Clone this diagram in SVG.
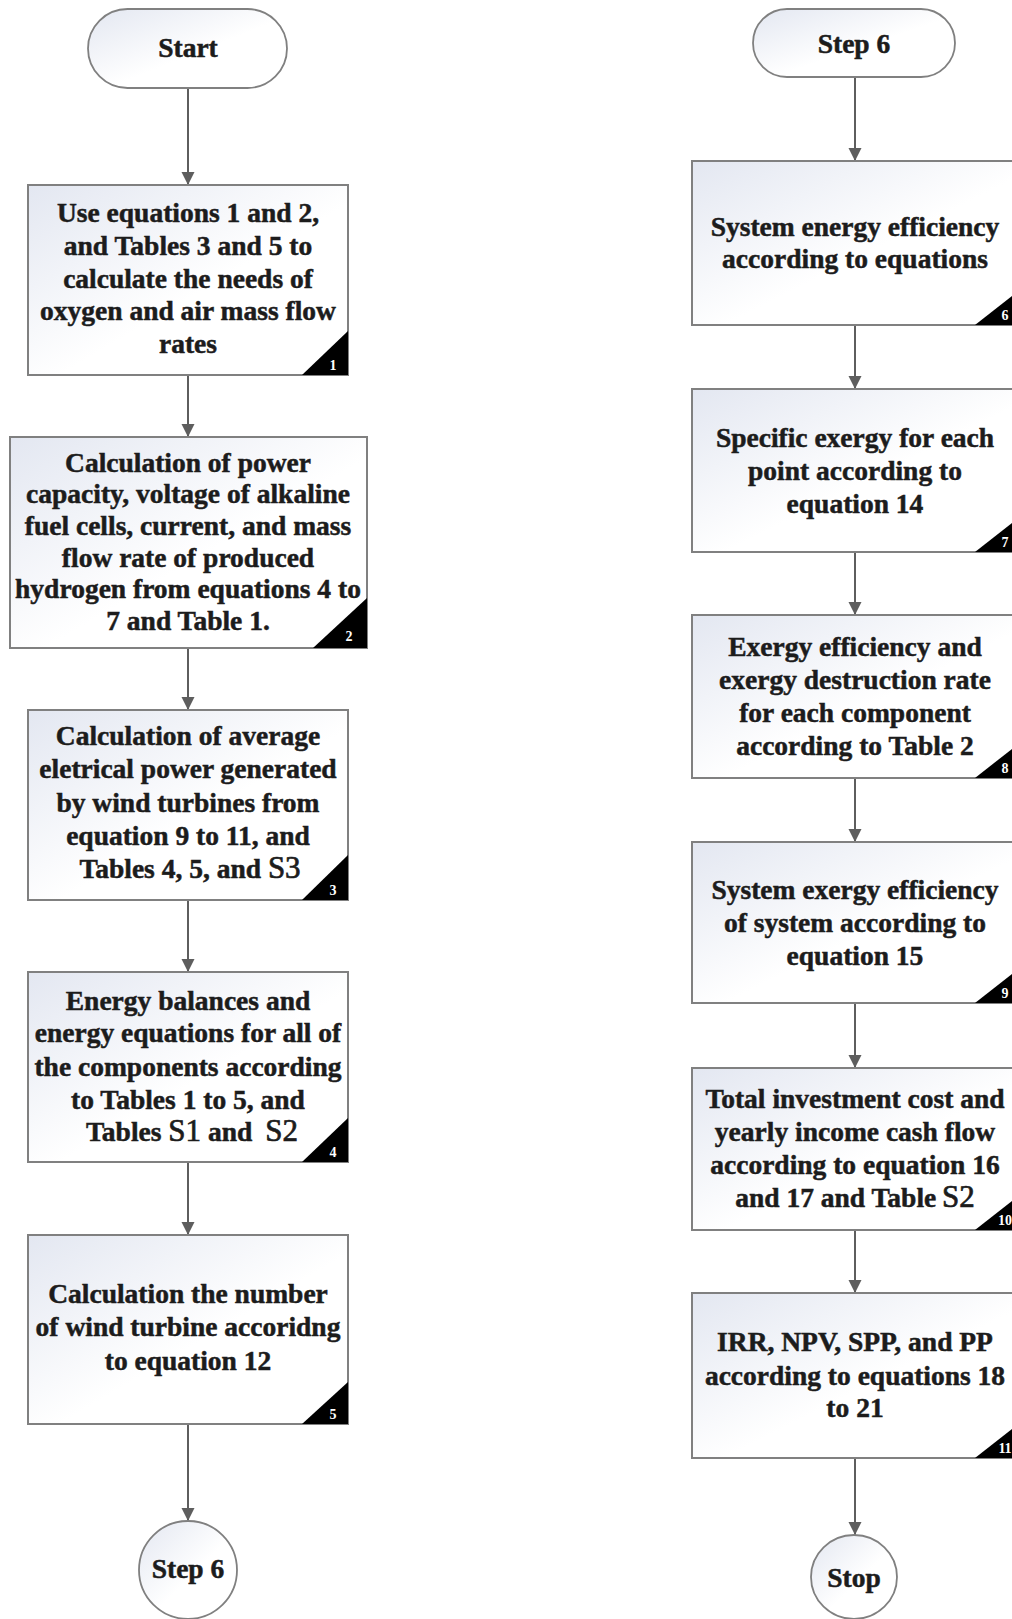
<svg xmlns="http://www.w3.org/2000/svg" width="1012" height="1619" viewBox="0 0 1012 1619">
<defs>
<linearGradient id="g" x1="0" y1="0" x2="1" y2="1">
<stop offset="0" stop-color="#e3e7f1"/>
<stop offset="0.55" stop-color="#ffffff"/>
<stop offset="1" stop-color="#ffffff"/>
</linearGradient>
<marker id="ah" markerWidth="14" markerHeight="14" refX="13" refY="6.5" orient="auto" markerUnits="userSpaceOnUse">
<path d="M0,0 L13,6.5 L0,13 z" fill="#5e5e5e"/>
</marker>
<style>
.box{fill:url(#g);stroke:#808080;stroke-width:2}
.term{fill:url(#g);stroke:#808080;stroke-width:1.8}
.tri{fill:#000}
.t{font-family:"Liberation Serif","Times New Roman",serif;font-weight:bold;font-size:27.5px;fill:#1c1c1c;stroke:#1c1c1c;stroke-width:0.5;text-anchor:middle}
.s{font-weight:normal;font-size:31px;stroke-width:0.7}
.n{font-family:"Liberation Serif","Times New Roman",serif;font-weight:bold;font-size:14px;fill:#fff;text-anchor:middle}
.c{stroke:#5e5e5e;stroke-width:2;fill:none;marker-end:url(#ah)}
</style>
</defs>
<rect width="1012" height="1619" fill="#fff"/>
<g id="connectors">
<line class="c" x1="188" y1="88" x2="188" y2="185"/>
<line class="c" x1="188" y1="375" x2="188" y2="437"/>
<line class="c" x1="188" y1="648" x2="188" y2="710"/>
<line class="c" x1="188" y1="900" x2="188" y2="972"/>
<line class="c" x1="188" y1="1162" x2="188" y2="1235"/>
<line class="c" x1="188" y1="1424" x2="188" y2="1521"/>
<line class="c" x1="855" y1="77" x2="855" y2="161"/>
<line class="c" x1="855" y1="325" x2="855" y2="389"/>
<line class="c" x1="855" y1="552" x2="855" y2="615"/>
<line class="c" x1="855" y1="778" x2="855" y2="842"/>
<line class="c" x1="855" y1="1003" x2="855" y2="1068"/>
<line class="c" x1="855" y1="1230" x2="855" y2="1293"/>
<line class="c" x1="855" y1="1458" x2="855" y2="1535"/>
</g>
<g id="start">
<rect class="term" x="88" y="9" width="199" height="79" rx="39.5"/>
<text class="t" x="188" y="57">Start</text>
</g>
<g id="box1">
<rect class="box" x="28" y="185" width="320" height="190"/>
<polygon class="tri" points="302,375 348,375 348,331"/>
<text class="n" x="333" y="370">1</text>
<text class="t"><tspan x="188" y="222">Use equations 1 and 2,</tspan><tspan x="188" y="255">and Tables 3 and 5 to</tspan><tspan x="188" y="288">calculate the needs of</tspan><tspan x="188" y="320">oxygen and air mass flow</tspan><tspan x="188" y="353">rates</tspan></text>
</g>
<g id="box2">
<rect class="box" x="10" y="437" width="357" height="211"/>
<polygon class="tri" points="313,648 367,648 367,598"/>
<text class="n" x="349" y="641">2</text>
<text class="t"><tspan x="188" y="472">Calculation of power</tspan><tspan x="188" y="503">capacity, voltage of alkaline</tspan><tspan x="188" y="535">fuel cells, current, and mass</tspan><tspan x="188" y="567">flow rate of produced</tspan><tspan x="188" y="598">hydrogen from equations 4 to</tspan><tspan x="188" y="630">7 and Table 1.</tspan></text>
</g>
<g id="box3">
<rect class="box" x="28" y="710" width="320" height="190"/>
<polygon class="tri" points="302,900 348,900 348,855"/>
<text class="n" x="333" y="895">3</text>
<text class="t"><tspan x="188" y="745">Calculation of average</tspan><tspan x="188" y="778">eletrical power generated</tspan><tspan x="188" y="812">by wind turbines from</tspan><tspan x="188" y="845">equation 9 to 11, and</tspan><tspan x="190" y="878">Tables 4, 5, and <tspan class="s">S3</tspan></tspan></text>
</g>
<g id="box4">
<rect class="box" x="28" y="972" width="320" height="190"/>
<polygon class="tri" points="302,1162 348,1162 348,1118"/>
<text class="n" x="333" y="1157">4</text>
<text class="t"><tspan x="188" y="1010">Energy balances and</tspan><tspan x="188" y="1042">energy equations for all of</tspan><tspan x="188" y="1076">the components according</tspan><tspan x="188" y="1109">to Tables 1 to 5, and</tspan><tspan x="192" y="1141">Tables <tspan class="s">S1</tspan> and <tspan class="s" dx="6">S2</tspan></tspan></text>
</g>
<g id="box5">
<rect class="box" x="28" y="1235" width="320" height="189"/>
<polygon class="tri" points="302,1424 348,1424 348,1382"/>
<text class="n" x="333" y="1419">5</text>
<text class="t"><tspan x="188" y="1303">Calculation the number</tspan><tspan x="188" y="1336">of wind turbine accoridng</tspan><tspan x="188" y="1370">to equation 12</tspan></text>
</g>
<g id="step6a">
<ellipse class="term" cx="188" cy="1570" rx="49" ry="49"/>
<text class="t" x="188" y="1578">Step 6</text>
</g>
<g id="step6b">
<rect class="term" x="753" y="9" width="202" height="68" rx="34"/>
<text class="t" x="854" y="53">Step 6</text>
</g>
<g id="box6">
<rect class="box" x="692" y="161" width="325" height="164"/>
<polygon class="tri" points="975,325 1017,325 1017,292"/>
<text class="n" x="1005" y="320">6</text>
<text class="t"><tspan x="855" y="236">System energy efficiency</tspan><tspan x="855" y="268">according to equations</tspan></text>
</g>
<g id="box7">
<rect class="box" x="692" y="389" width="325" height="163"/>
<polygon class="tri" points="975,552 1017,552 1017,519"/>
<text class="n" x="1005" y="547">7</text>
<text class="t"><tspan x="855" y="447">Specific exergy for each</tspan><tspan x="855" y="480">point according to</tspan><tspan x="855" y="513">equation 14</tspan></text>
</g>
<g id="box8">
<rect class="box" x="692" y="615" width="325" height="163"/>
<polygon class="tri" points="975,778 1017,778 1017,745"/>
<text class="n" x="1005" y="773">8</text>
<text class="t"><tspan x="855" y="656">Exergy efficiency and</tspan><tspan x="855" y="689">exergy destruction rate</tspan><tspan x="855" y="722">for each component</tspan><tspan x="855" y="755">according to Table 2</tspan></text>
</g>
<g id="box9">
<rect class="box" x="692" y="842" width="325" height="161"/>
<polygon class="tri" points="975,1003 1017,1003 1017,970"/>
<text class="n" x="1005" y="998">9</text>
<text class="t"><tspan x="855" y="899">System exergy efficiency</tspan><tspan x="855" y="932">of system according to</tspan><tspan x="855" y="965">equation 15</tspan></text>
</g>
<g id="box10">
<rect class="box" x="692" y="1068" width="325" height="162"/>
<polygon class="tri" points="975,1230 1017,1230 1017,1197"/>
<text class="n" x="1005" y="1225">10</text>
<text class="t"><tspan x="855" y="1108">Total investment cost and</tspan><tspan x="855" y="1141">yearly income cash flow</tspan><tspan x="855" y="1174">according to equation 16</tspan><tspan x="855" y="1207">and 17 and Table<tspan class="s" dx="-2"> S2</tspan></tspan></text>
</g>
<g id="box11">
<rect class="box" x="692" y="1293" width="325" height="165"/>
<polygon class="tri" points="975,1458 1017,1458 1017,1425"/>
<text class="n" x="1005" y="1453">11</text>
<text class="t"><tspan x="855" y="1351">IRR, NPV, SPP, and PP</tspan><tspan x="855" y="1385">according to equations 18</tspan><tspan x="855" y="1417">to 21</tspan></text>
</g>
<g id="stop">
<ellipse class="term" cx="854" cy="1577" rx="43" ry="42"/>
<text class="t" x="854" y="1587">Stop</text>
</g>
</svg>
